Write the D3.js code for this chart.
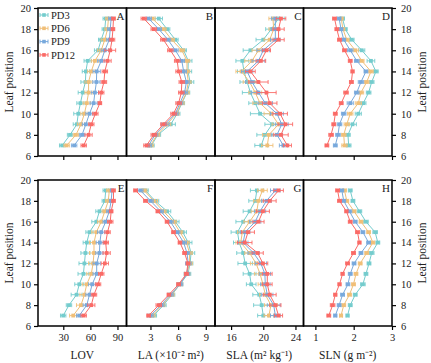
<!DOCTYPE html>
<html><head><meta charset="utf-8">
<script src="https://cdn.jsdelivr.net/npm/d3@7"></script>
<style>body{margin:0;background:#fff}svg{display:block}text{font-family:"Liberation Serif","Times New Roman",serif;fill:#222}</style>
</head><body>
<script>
const leaves = [7,8,9,10,11,12,13,14,15,16,17,18,19];
const seriesNames = ["PD3","PD6","PD9","PD12"];
const colors = ["#74cccd","#f0bf78","#78a9dc","#fa6a66"];
const yTicks = [6,8,10,12,14,16,18,20];

// values per series (PD3, PD6, PD9, PD12), leaf 7 -> 19
const lovTop = [
 [28.8,37.5,45,46.6,49,51.5,54.5,55,57,68.5,72,76,77],
 [33.7,44,49.6,53.4,56,58,58,61,65,72,76,79,80],
 [42,50.8,55,59,63.6,65,66.7,67,72,76,81,82,83],
 [52.6,58,61,65.5,70.5,72,75,76,79,82,84,85,85.6]];
const lovTopErr = [
 [3,3,4,5,4,5,5,4,4,4,3,3,3],
 [3,3,4,4,4,4,4,4,4,4,4,3,3],
 [3,3,4,4,4,4,4,4,4,4,3,3,3],
 [3,4,3,3,2,3,3,3,4,6,3,2,2]];
const lovBot = [
 [29.9,36.3,44.7,47.7,52.3,53.4,54.5,56,59,66.6,70,76,77],
 [41,49.6,53.4,56,61,63,64,64,66.6,72,76,79.8,81],
 [47.7,56,59,62,67,67,70,70.5,72,77,81,83,84],
 [52.6,61,64,68.5,72,76,78,77,79,82,83,85.6,85.6]];
const lovBotErr = [
 [3,3,6,5,6,6,5,4,4,5,4,3,3],
 [4,5,5,5,5,5,5,5,5,4,3,3,3],
 [3,4,4,4,4,4,4,4,4,3,3,2,2],
 [3,4,3,3,3,4,4,3,3,3,2,2,2]];

const laTop = [
 [3.1,3.8,5.2,5.9,6.4,6.96,7.3,7.07,7.1,6.6,5.7,4.8,3.9],
 [3.0,3.7,4.8,5.8,6.35,6.9,7.1,6.96,6.96,6.4,5.3,4.4,3.2],
 [2.8,3.5,4.6,5.7,6.2,6.7,6.9,6.6,6.4,5.7,4.9,3.9,2.8],
 [2.57,3.36,4.4,5.5,6.05,6.35,6.4,6.05,5.9,5.16,4.4,3.36,2.28]];
const laTopErr = [
 [0.3,0.3,0.5,0.3,0.3,0.3,0.4,0.4,0.4,0.3,0.3,0.3,0.4],
 [0.3,0.3,0.4,0.3,0.3,0.3,0.3,0.3,0.3,0.3,0.3,0.3,0.3],
 [0.3,0.3,0.4,0.3,0.3,0.3,0.3,0.3,0.3,0.3,0.3,0.3,0.3],
 [0.3,0.3,0.3,0.3,0.3,0.3,0.3,0.3,0.3,0.3,0.3,0.3,0.3]];
const laBot = [
 [3.36,4.4,5.34,6.2,7.07,7.3,7.4,7.1,6.5,5.7,4.8,3.5,2.46],
 [3.2,4.26,5.27,6.2,6.96,7.24,7.24,6.9,6.2,5.5,4.4,3.36,2.3],
 [3.0,4.15,5.16,6.2,6.96,7.1,6.96,6.6,5.9,5.16,4.1,3.0,1.9],
 [2.8,3.9,5.0,6.05,6.9,7.07,6.7,6.2,5.5,4.8,3.8,2.46,1.38]];
const laBotErr = [
 [0.3,0.3,0.3,0.3,0.3,0.3,0.4,0.4,0.4,0.4,0.4,0.4,0.3],
 [0.3,0.3,0.3,0.3,0.3,0.3,0.3,0.3,0.3,0.3,0.3,0.4,0.3],
 [0.3,0.3,0.3,0.3,0.3,0.3,0.3,0.3,0.3,0.3,0.3,0.3,0.3],
 [0.2,0.3,0.2,0.2,0.2,0.2,0.2,0.2,0.2,0.2,0.2,0.2,0.2]];

const slaTop = [
 [19.75,20.2,21.1,19.6,19.0,18.4,18.0,17.6,17.4,18.4,20.0,21.0,21.9],
 [20.5,20.7,21.9,21.0,19.6,19.0,18.3,17.3,18.6,19.4,20.8,21.3,21.2],
 [22.5,21.7,22.3,21.7,20.25,19.4,18.6,18.0,19.4,20.0,21.5,21.5,21.5],
 [23.0,22.2,22.75,22.1,20.8,20.4,19.4,18.4,19.7,20.4,21.9,21.9,22.2]];
const slaTopErr = [
 [0.8,1.0,0.9,1.2,0.8,1.0,0.9,0.8,0.8,0.9,0.9,0.7,0.7],
 [0.7,0.8,0.8,0.9,0.9,0.8,0.8,0.7,0.9,0.8,0.7,0.6,0.5],
 [0.5,0.7,0.8,0.8,0.9,0.9,0.8,0.7,0.8,0.8,0.6,0.5,0.5],
 [0.5,0.9,0.9,0.9,0.9,1.2,1.2,0.6,0.6,0.5,0.7,0.7,0.6]];
const slaBot = [
 [20.0,19.8,19.5,18.5,18.3,17.75,17.5,17.0,16.8,17.5,18.3,19.0,19.2],
 [20.7,20.96,20.25,19.96,19.6,19.1,18.3,17.2,17.4,18.3,19.2,19.4,19.9],
 [21.5,21.3,20.5,20.25,20.2,19.7,18.8,17.5,17.75,19.0,19.6,20.4,21.5],
 [21.9,21.5,20.8,20.5,20.5,19.96,19.3,17.7,18.1,19.4,19.96,20.8,21.9]];
const slaBotErr = [
 [0.7,1.0,0.8,0.6,0.8,0.9,0.8,0.7,0.8,0.9,0.8,0.8,0.8],
 [0.6,0.8,0.7,0.6,0.7,0.7,0.6,0.6,0.6,0.7,0.7,0.6,0.6],
 [0.6,0.8,0.7,0.6,0.7,0.7,0.7,0.6,0.6,0.7,0.7,0.6,0.6],
 [0.5,0.7,0.8,0.6,0.6,0.6,0.7,0.9,0.8,0.7,0.8,0.8,0.6]];

const slnTop = [
 [1.87,1.85,1.97,2.12,2.25,2.39,2.47,2.58,2.45,2.21,1.95,1.78,1.71],
 [1.76,1.74,1.82,1.91,2.12,2.19,2.34,2.45,2.21,2.04,1.82,1.72,1.675],
 [1.52,1.59,1.63,1.74,1.91,2.08,2.19,2.32,2.08,1.91,1.74,1.67,1.62],
 [1.30,1.41,1.48,1.52,1.675,1.80,1.94,1.97,1.91,1.76,1.63,1.56,1.50]];
const slnTopErr = [
 [0.06,0.06,0.10,0.08,0.07,0.06,0.06,0.06,0.10,0.08,0.06,0.05,0.05],
 [0.07,0.06,0.07,0.07,0.08,0.07,0.06,0.06,0.06,0.08,0.06,0.05,0.05],
 [0.05,0.06,0.06,0.06,0.08,0.06,0.07,0.05,0.06,0.07,0.05,0.05,0.05],
 [0.05,0.06,0.05,0.05,0.05,0.06,0.05,0.04,0.05,0.05,0.05,0.05,0.05]];
const slnBot = [
 [1.84,1.91,2.04,2.24,2.32,2.40,2.47,2.63,2.56,2.32,2.15,1.98,1.91],
 [1.67,1.74,1.89,1.995,2.06,2.17,2.34,2.50,2.39,2.19,2.01,1.82,1.76],
 [1.52,1.62,1.71,1.85,1.91,2.01,2.19,2.39,2.24,2.04,1.89,1.74,1.69],
 [1.35,1.45,1.52,1.63,1.71,1.84,1.995,2.15,2.10,1.91,1.81,1.63,1.58]];
const slnBotErr = [
 [0.04,0.05,0.05,0.06,0.05,0.05,0.06,0.05,0.06,0.06,0.06,0.05,0.05],
 [0.04,0.05,0.05,0.05,0.05,0.05,0.05,0.05,0.05,0.05,0.05,0.05,0.05],
 [0.04,0.05,0.05,0.05,0.05,0.05,0.05,0.05,0.05,0.05,0.06,0.05,0.05],
 [0.05,0.06,0.04,0.04,0.04,0.05,0.05,0.04,0.05,0.05,0.04,0.05,0.05]];

const xTitles = ["LOV","LA (×10⁻² m²)","SLA (m² kg⁻¹)","SLN (g m⁻²)"];
const xDomains = [[2,100],[0.4,10],[14,25],[0.69,3]];
const xTickVals = [[30,60,90],[3,6,9],[16,20,24],[1,2,3]];
const panelLetters = [["A","B","C","D"],["E","F","G","H"]];
const panelData = [[lovTop,laTop,slaTop,slnTop],[lovBot,laBot,slaBot,slnBot]];
const panelErr = [[lovTopErr,laTopErr,slaTopErr,slnTopErr],[lovBotErr,laBotErr,slaBotErr,slnBotErr]];

const W=431,H=363;
const colX=[38,126.5,215,303.5,392];
const rowY=[[8,156],[180,326]];
const svg=d3.select("body").append("svg").attr("width",W).attr("height",H);
const fmt=d3.format("~g");

function styleAxis(a){
 a.select(".domain").remove();
 a.selectAll("line").attr("stroke","#000").attr("stroke-width",1.2);
 a.selectAll("text").attr("font-size",10.5).attr("fill","#222").attr("font-family",'"Liberation Serif",serif');
}

for(let r=0;r<2;r++){
 const y=d3.scaleLinear().domain([6,20]).range([rowY[r][1],rowY[r][0]]);
 for(let c=0;c<4;c++){
  const x=d3.scaleLinear().domain(xDomains[c]).range([colX[c],colX[c+1]]);
  const g=svg.append("g");
  const ax=d3.axisBottom(x).tickValues(xTickVals[c]).tickSize(4).tickPadding(4).tickFormat(fmt);
  if(r===0) ax.tickFormat("");
  styleAxis(g.append("g").attr("transform",`translate(0,${rowY[r][1]})`).call(ax));
  if(c===0){
   styleAxis(g.append("g").attr("transform",`translate(${colX[0]},0)`)
     .call(d3.axisLeft(y).tickValues(yTicks).tickSize(4).tickPadding(3)));
  }
  if(c===3){
   styleAxis(g.append("g").attr("transform",`translate(${colX[4]},0)`)
     .call(d3.axisRight(y).tickValues(yTicks).tickSize(4).tickPadding(5)));
  }
  const vals=panelData[r][c], errs=panelErr[r][c];
  for(let s=0;s<4;s++){
   const col=colors[s];
   const pts=leaves.map((L,i)=>({L,v:vals[s][i],e:errs[s][i]}));
   const sg=g.append("g");
   sg.append("path").datum(pts).attr("fill","none").attr("stroke",col).attr("stroke-width",1)
     .attr("d",d3.line().x(d=>x(d.v)).y(d=>y(d.L)));
   const eb=sg.selectAll(".eb").data(pts).enter().append("g").attr("stroke",col).attr("stroke-width",0.9);
   eb.append("line").attr("x1",d=>x(d.v-d.e)).attr("x2",d=>x(d.v+d.e)).attr("y1",d=>y(d.L)).attr("y2",d=>y(d.L));
   eb.append("line").attr("x1",d=>x(d.v-d.e)).attr("x2",d=>x(d.v-d.e)).attr("y1",d=>y(d.L)-2).attr("y2",d=>y(d.L)+2);
   eb.append("line").attr("x1",d=>x(d.v+d.e)).attr("x2",d=>x(d.v+d.e)).attr("y1",d=>y(d.L)-2).attr("y2",d=>y(d.L)+2);
   sg.selectAll(".mk").data(pts).enter().append("rect")
     .attr("x",d=>x(d.v)-1.9).attr("y",d=>y(d.L)-1.9).attr("width",3.8).attr("height",3.8)
     .attr("fill",col);
  }
  g.append("rect").attr("x",colX[c]).attr("y",rowY[r][0]).attr("width",colX[c+1]-colX[c])
   .attr("height",rowY[r][1]-rowY[r][0]).attr("fill","none").attr("stroke","#000").attr("stroke-width",1.5);
  g.append("text").attr("x",colX[c+1]-2).attr("y",rowY[r][0]+12).attr("text-anchor","end")
   .attr("font-size",11).text(panelLetters[r][c]);
  if(r===1){
   g.append("text").attr("x",(colX[c]+colX[c+1])/2).attr("y",359).attr("text-anchor","middle")
    .attr("font-size",11.5).text(xTitles[c]);
  }
 }
 const cy=(rowY[r][0]+rowY[r][1])/2;
 svg.append("text").attr("transform",`translate(13,${cy}) rotate(-90)`).attr("text-anchor","middle")
  .attr("font-size",11.5).text("Leaf position");
 svg.append("text").attr("transform",`translate(426,${cy}) rotate(-90)`).attr("text-anchor","middle")
  .attr("font-size",11.5).text("Leaf position");
}

const lg=svg.append("g");
seriesNames.forEach((n,i)=>{
 const yy=15+i*13.3;
 const ig=lg.append("g").attr("stroke",colors[i]).attr("stroke-width",1);
 ig.append("line").attr("x1",40).attr("x2",48).attr("y1",yy).attr("y2",yy);
 ig.append("line").attr("x1",40).attr("x2",40).attr("y1",yy-2).attr("y2",yy+2);
 ig.append("line").attr("x1",48).attr("x2",48).attr("y1",yy-2).attr("y2",yy+2);
 lg.append("rect").attr("x",42.2).attr("y",yy-1.8).attr("width",3.6).attr("height",3.6).attr("fill",colors[i]);
 lg.append("text").attr("x",51).attr("y",yy+3.6).attr("font-size",10.5).text(n);
});
</script>
</body></html>
